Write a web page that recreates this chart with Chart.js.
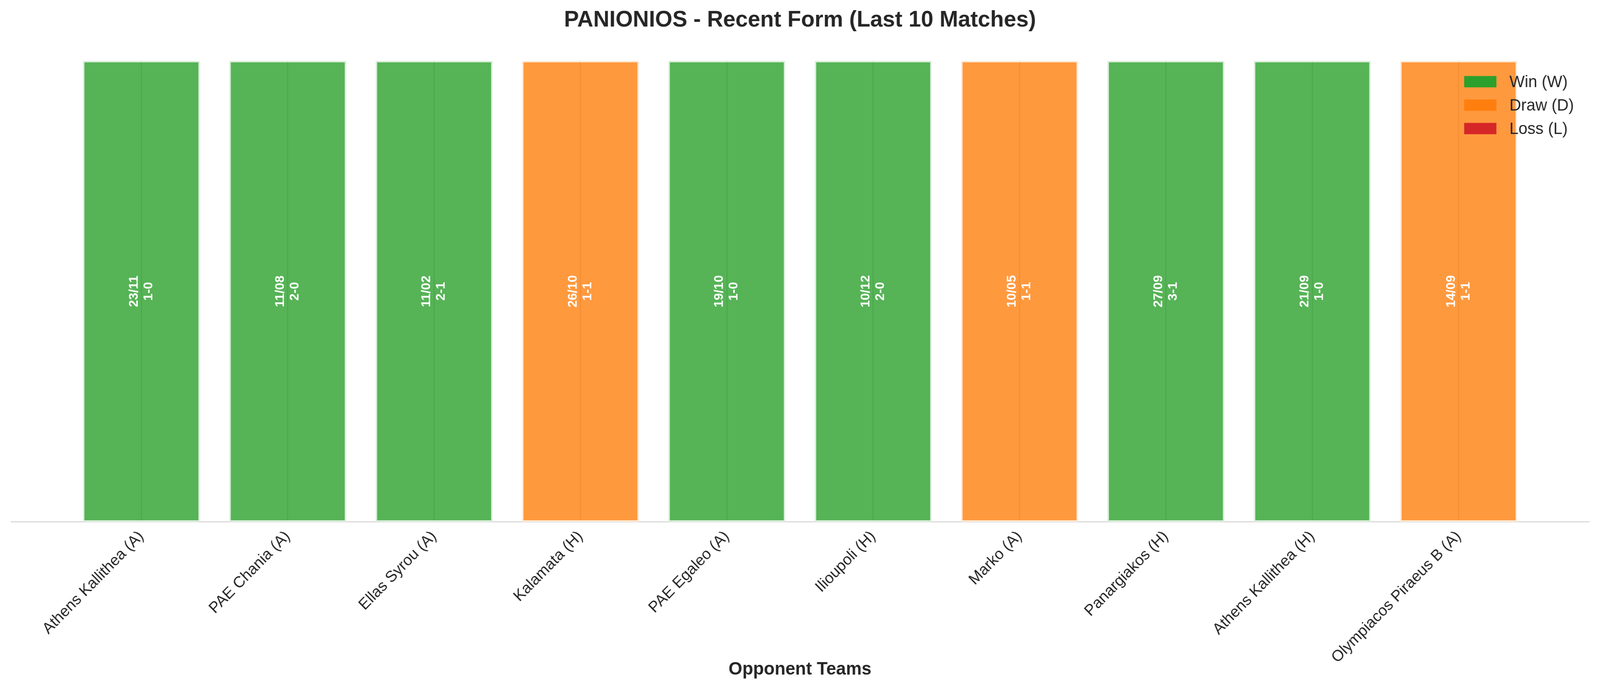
<!DOCTYPE html>
<html><head><meta charset="utf-8">
<script src="https://cdn.jsdelivr.net/npm/chart.js@4.4.0/dist/chart.umd.min.js"></script>
<style>html,body{margin:0;padding:0;background:#fff;overflow:hidden}canvas{display:block}</style>
</head><body>
<canvas id="c" width="4170" height="1769" style="width:100vw;height:100vh"></canvas>
<script>
// ---- data ----
const opponents = ['Athens Kallithea (A)','PAE Chania (A)','Ellas Syrou (A)','Kalamata (H)','PAE Egaleo (A)','Ilioupoli (H)','Marko (A)','Panargiakos (H)','Athens Kallithea (H)','Olympiacos Piraeus B (A)'];
const matchDates = ['23/11','11/08','11/02','26/10','19/10','10/12','10/05','27/09','21/09','14/09'];
const scores = ['1-0','2-0','2-1','1-1','1-0','2-0','1-1','3-1','1-0','1-1'];
const results = ['W','W','W','D','W','W','D','W','W','D'];
const barHeights = [1,1,1,1,1,1,1,1,1,1];
const legendKeys = ['W','D','L'];
const legendLabels = ['Win (W)','Draw (D)','Loss (L)'];

// ---- styles ----
const FONT = '"Liberation Sans", Arial, sans-serif';
const TXT = '#262626';
const solid = {W:'#2ca02c', D:'#ff7f0e', L:'#d62728'};
const fill = {W:'rgba(44,160,44,0.8)', D:'rgba(255,127,14,0.8)', L:'rgba(214,39,40,0.8)'};
const edge = {W:'#ddf0dd', D:'#ffebd8', L:'#f7dcdc'};

const n = opponents.length;
const barW = 0.8;
const margin = 0.05 * ((n - 1) + barW);
const xMin = -barW / 2 - margin;
const xMax = (n - 1) + barW / 2 + margin;

const barTextPlugin = {
  id: 'barText',
  afterDatasetsDraw(chart) {
    const ctx = chart.ctx;
    const meta = chart.getDatasetMeta(0);
    ctx.save();
    ctx.fillStyle = '#ffffff';
    ctx.font = 'bold 33px ' + FONT;
    ctx.textAlign = 'center';
    ctx.textBaseline = 'middle';
    meta.data.forEach((el, i) => {
      const cy = (el.y + el.base) / 2;
      ctx.save();
      ctx.translate(el.x, cy);
      ctx.rotate(-Math.PI / 2);
      ctx.fillText(matchDates[i], 0, -19);
      ctx.fillText(scores[i], 0, 19);
      ctx.restore();
    });
    ctx.restore();
  }
};

const legendPlugin = {
  id: 'cornerLegend',
  afterDraw(chart) {
    const ctx = chart.ctx;
    const ca = chart.chartArea;
    ctx.save();
    ctx.font = '42px ' + FONT;
    const maxW = Math.max(...legendLabels.map(t => ctx.measureText(t).width));
    const textX = ca.right - 39 - maxW;
    const patchW = 84, patchH = 29, gap = 34;
    const patchX = textX - gap - patchW;
    legendKeys.forEach((k, i) => {
      const cy = ca.top + 53.5 + i * 60;
      ctx.fillStyle = solid[k];
      ctx.fillRect(patchX, cy - patchH / 2, patchW, patchH);
      ctx.fillStyle = TXT;
      ctx.textAlign = 'left';
      ctx.textBaseline = 'middle';
      ctx.fillText(legendLabels[i], textX, cy + 2);
    });
    ctx.restore();
  }
};

new Chart(document.getElementById('c'), {
  type: 'bar',
  data: {
    datasets: [{
      data: barHeights.map((v, i) => ({x: i, y: v})),
      backgroundColor: results.map(r => fill[r]),
      borderColor: results.map(r => edge[r]),
      borderWidth: 4,
      borderSkipped: false,
      barPercentage: barW,
      categoryPercentage: 1.0
    }]
  },
  options: {
    responsive: false,
    devicePixelRatio: 1,
    animation: false,
    layout: {padding: {left: 29, right: 29, top: 0, bottom: 0}},
    plugins: {
      legend: {display: false},
      tooltip: {enabled: false},
      title: {
        display: true,
        text: 'PANIONIOS - Recent Form (Last 10 Matches)',
        color: TXT,
        font: {family: FONT, size: 58, weight: 'bold', lineHeight: 1.2},
        padding: {top: 17, bottom: 69}
      }
    },
    scales: {
      x: {
        type: 'linear',
        offset: false,
        bounds: 'data',
        min: xMin,
        max: xMax,
        afterBuildTicks: axis => {
          axis.ticks = opponents.map((_, i) => ({value: i}));
          axis.min = xMin;
          axis.max = xMax;
        },
        afterFit: s => { s.height = 433; s.paddingLeft = 0; s.paddingRight = 0; },
        ticks: {
          callback: v => opponents[v],
          autoSkip: false,
          minRotation: 45,
          maxRotation: 45,
          padding: 14,
          color: TXT,
          font: {family: FONT, size: 40}
        },
        grid: {color: '#cccccc', lineWidth: 3, drawTicks: false, offset: false},
        border: {display: true, color: '#cccccc', width: 2},
        title: {
          display: true,
          text: 'Opponent Teams',
          color: TXT,
          font: {family: FONT, size: 46, weight: 'bold', lineHeight: 1.2},
          padding: {top: 0, bottom: 27}
        }
      },
      y: {
        min: 0,
        max: 1,
        display: false
      }
    }
  },
  plugins: [barTextPlugin, legendPlugin]
});
</script>
</body></html>
